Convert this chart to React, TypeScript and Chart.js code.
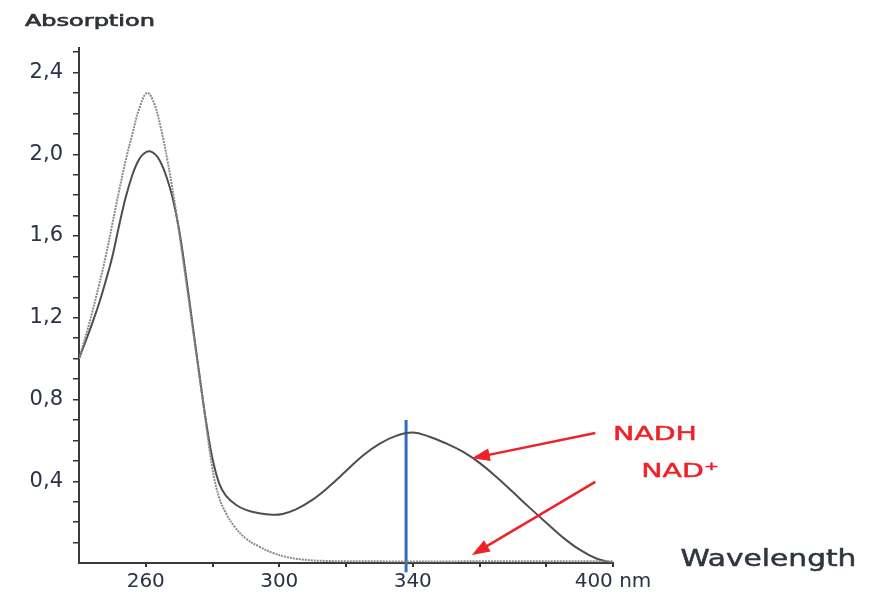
import React, { useEffect, useRef } from 'react';
import { Chart, registerables } from 'chart.js';

Chart.register(...registerables);

// ---- Data ----
const nadhWavelengths = [240, 242, 244, 246, 248, 250, 252, 254, 256, 257.5, 259, 261, 263, 264.5, 266, 268, 270, 272, 274, 276, 278, 280, 282, 284, 287, 290, 294, 298, 301, 305, 310, 315, 320, 325, 330, 335, 340, 345, 350, 355, 360, 365, 370, 375, 380, 385, 390, 395, 400];
const nadhAbsorbance = [1.0, 1.085, 1.175, 1.27, 1.38, 1.5, 1.65, 1.79, 1.9, 1.96, 1.997, 2.015, 1.997, 1.96, 1.9, 1.79, 1.63, 1.41, 1.17, 0.93, 0.7, 0.51, 0.39, 0.33, 0.285, 0.26, 0.243, 0.236, 0.24, 0.262, 0.31, 0.375, 0.45, 0.525, 0.583, 0.622, 0.638, 0.618, 0.585, 0.545, 0.49, 0.422, 0.347, 0.271, 0.197, 0.125, 0.065, 0.022, 0.0];

const nadWavelengths = [240, 242, 244, 246, 248, 250, 252, 254, 256, 258, 260.4, 262.5, 264.5, 266.5, 268.5, 270.5, 272.5, 275, 277.5, 280, 282, 284, 286.5, 290, 294, 298, 302, 307, 314, 330, 360, 400];
const nadAbsorbance = [1.0, 1.11, 1.23, 1.36, 1.5, 1.66, 1.82, 1.97, 2.1, 2.22, 2.3, 2.25, 2.13, 1.97, 1.78, 1.56, 1.33, 1.04, 0.75, 0.46, 0.32, 0.245, 0.18, 0.12, 0.08, 0.05, 0.03, 0.017, 0.01, 0.008, 0.008, 0.008];

const markerWavelength = [338, 338];
const markerAbsorbance = [0.7, -0.045];

const xTickValues = [260, 280, 300, 320, 340, 360, 380, 400];
const xTickLabels = ['260', '', '300', '', '340', '', '', '400 nm'];

const yTickValues = [0.1, 0.2, 0.3, 0.4, 0.5, 0.6, 0.7, 0.8, 0.9, 1.0, 1.1, 1.2, 1.3, 1.4, 1.5, 1.6, 1.7, 1.8, 1.9, 2.0, 2.1, 2.2, 2.3, 2.4, 2.5];
const yMajorValues = [0.4, 0.8, 1.2, 1.6, 2.0, 2.4];
const yMajorLabels = ['0,4', '0,8', '1,2', '1,6', '2,0', '2,4'];

const xMin = 240;
const xMax = 400;
const yMin = 0;
const yMax = 2.52;

// annotations (data coordinates)
const seriesLabels = ['NADH', 'NAD\u207A'];
const seriesLabelAnchors = [[400.0, 0.601], [408.5, 0.42]];
const arrowTails = [[394.7, 0.636], [394.7, 0.397]];
const arrowTips = [[357.7, 0.512], [357.7, 0.039]];
const yTitle = 'Absorption';
const yTitleAnchor = [223.8, 2.63];
const xTitle = 'Wavelength';
const xTitleAnchor = [420.2, -0.016];

const annotationPlugin = {
  id: 'annotations',
  afterDatasetsDraw(chart: any) {
    const ctx = chart.ctx as CanvasRenderingContext2D;
    const xs = chart.scales.x;
    const ys = chart.scales.y;
    const px = (v: number) => xs.getPixelForValue(v);
    const py = (v: number) => ys.getPixelForValue(v);

    const drawText = (text: string, x: number, y: number, font: string, color: string, sx: number, stroke: number) => {
      ctx.save();
      ctx.font = font;
      ctx.fillStyle = color;
      ctx.strokeStyle = color;
      ctx.lineWidth = stroke;
      ctx.lineJoin = 'round';
      ctx.textAlign = 'left';
      ctx.textBaseline = 'alphabetic';
      ctx.translate(x, y);
      ctx.scale(sx, 1);
      ctx.fillText(text, 0, 0);
      if (stroke > 0) ctx.strokeText(text, 0, 0);
      ctx.restore();
    };

    drawText(yTitle, px(yTitleAnchor[0]), py(yTitleAnchor[1]), '16px "DejaVu Sans"', '#2f3338', 1.5, 0.7);
    drawText(xTitle, px(xTitleAnchor[0]), py(xTitleAnchor[1]), '23px "DejaVu Sans"', '#2f3640', 1.29, 0.5);

    const red = '#ee2229';
    seriesLabels.forEach((lab, i) => {
      drawText(lab, px(seriesLabelAnchors[i][0]), py(seriesLabelAnchors[i][1]), '20px "DejaVu Sans"', red, 1.42, 0.5);
    });

    arrowTails.forEach((tail, i) => {
      const x0 = px(tail[0]);
      const y0 = py(tail[1]);
      const x1 = px(arrowTips[i][0]);
      const y1 = py(arrowTips[i][1]);
      const ang = Math.atan2(y1 - y0, x1 - x0);
      const headLen = 18;
      const headHalf = 6.5;
      const bx = x1 - Math.cos(ang) * headLen;
      const by = y1 - Math.sin(ang) * headLen;
      ctx.save();
      ctx.strokeStyle = red;
      ctx.fillStyle = red;
      ctx.lineWidth = 2.5;
      ctx.beginPath();
      ctx.moveTo(x0, y0);
      ctx.lineTo(bx + Math.cos(ang) * 2, by + Math.sin(ang) * 2);
      ctx.stroke();
      ctx.beginPath();
      ctx.moveTo(x1, y1);
      ctx.lineTo(bx + Math.sin(ang) * headHalf, by - Math.cos(ang) * headHalf);
      ctx.lineTo(bx - Math.sin(ang) * headHalf, by + Math.cos(ang) * headHalf);
      ctx.closePath();
      ctx.fill();
      ctx.restore();
    });
  },
};

export default function App() {
  const canvasRef = useRef<HTMLCanvasElement | null>(null);

  useEffect(() => {
    const canvas = canvasRef.current;
    if (!canvas) return;

    const nadhData = nadhWavelengths.map((x, i) => ({ x, y: nadhAbsorbance[i] }));
    const nadData = nadWavelengths.map((x, i) => ({ x, y: nadAbsorbance[i] }));
    const markerData = markerWavelength.map((x, i) => ({ x, y: markerAbsorbance[i] }));

    const chart = new Chart(canvas, {
      type: 'line',
      data: {
        datasets: [
          {
            label: 'NAD+',
            data: nadData,
            borderColor: '#8a8a8a',
            borderWidth: 2,
            borderDash: [2, 1],
            pointRadius: 0,
            fill: false,
            tension: 0.4,
          },
          {
            label: 'NADH',
            data: nadhData,
            borderColor: '#4e4e4e',
            borderWidth: 2,
            pointRadius: 0,
            fill: false,
            tension: 0.4,
          },
          {
            label: '340 nm',
            data: markerData,
            borderColor: '#2f6fba',
            borderWidth: 3,
            pointRadius: 0,
            fill: false,
            tension: 0,
            clip: false as any,
          },
        ],
      },
      options: {
        responsive: false,
        animation: false,
        layout: { padding: { top: 48, right: 271, bottom: 0, left: 0 } },
        plugins: {
          legend: { display: false },
          tooltip: { enabled: false },
          title: { display: false },
        },
        scales: {
          x: {
            type: 'linear',
            min: xMin,
            max: xMax,
            afterBuildTicks: (scale: any) => {
              scale.ticks = xTickValues.map((v) => ({ value: v }));
            },
            afterFit: (scale: any) => {
              scale.height = 32;
            },
            ticks: {
              autoSkip: false,
              maxRotation: 0,
              padding: 3,
              color: '#2a3245',
              font: { family: 'DejaVu Sans', size: 20 },
              callback: (value: any) => {
                const idx = xTickValues.indexOf(Number(value));
                return idx >= 0 ? xTickLabels[idx] : '';
              },
            },
            grid: {
              drawOnChartArea: false,
              drawTicks: true,
              tickLength: 4,
              color: '#333333',
              lineWidth: 2,
            },
            border: { display: true, color: '#3a3a3a', width: 2 },
          },
          y: {
            type: 'linear',
            min: yMin,
            max: yMax,
            afterBuildTicks: (scale: any) => {
              scale.ticks = yTickValues.map((v) => ({ value: v }));
            },
            afterFit: (scale: any) => {
              scale.width = 79;
            },
            ticks: {
              autoSkip: false,
              padding: 10,
              color: '#2a3245',
              font: { family: 'DejaVu Sans', size: 21 },
              callback: (value: any) => {
                const v = Number(value);
                const idx = yMajorValues.findIndex((m) => Math.abs(m - v) < 1e-6);
                return idx >= 0 ? yMajorLabels[idx] : '';
              },
            },
            grid: {
              drawOnChartArea: false,
              drawTicks: true,
              tickLength: 6,
              color: '#333333',
              lineWidth: 1.5,
            },
            border: { display: true, color: '#3a3a3a', width: 2 },
          },
        },
      },
      plugins: [annotationPlugin],
    });

    return () => {
      chart.destroy();
    };
  }, []);

  return (
    <div style={{ position: 'fixed', left: 0, top: 0, width: 884, height: 595, background: '#ffffff' }}>
      <canvas ref={canvasRef} width={884} height={595} style={{ display: 'block' }} />
    </div>
  );
}
